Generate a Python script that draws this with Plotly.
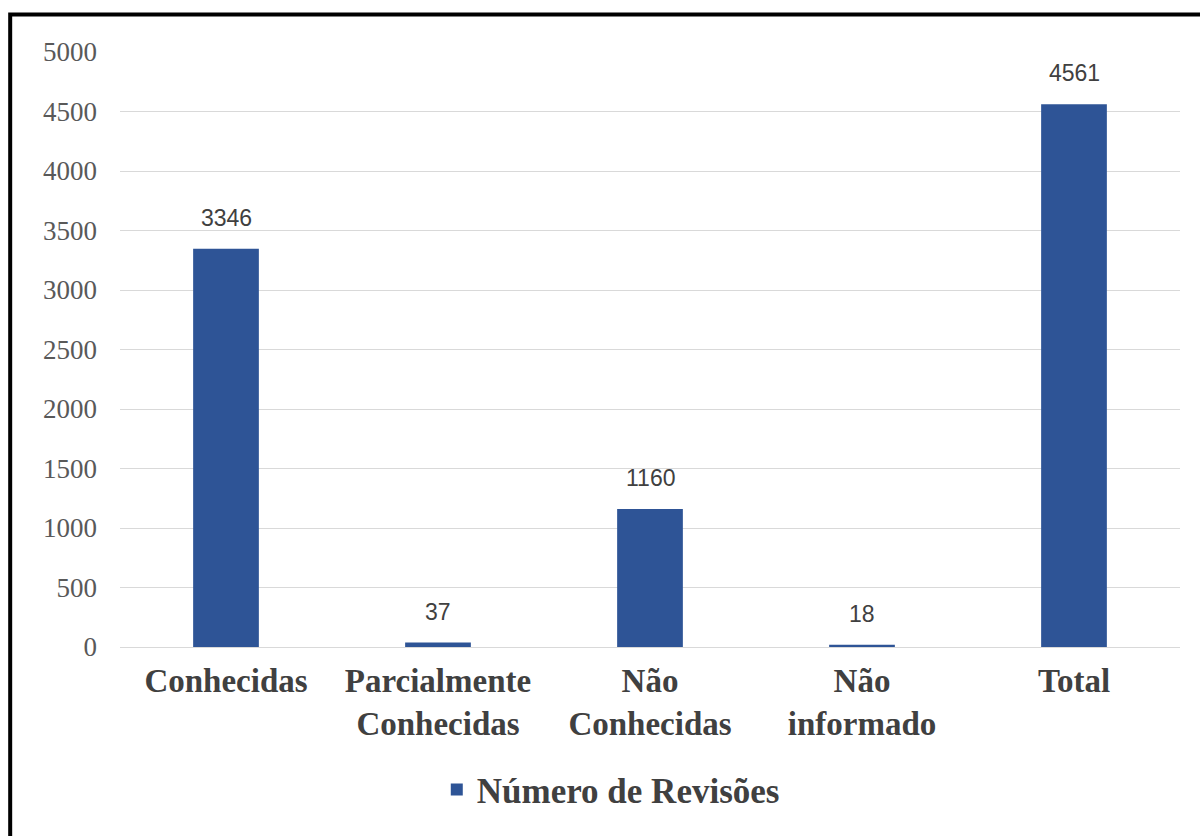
import plotly.graph_objects as go

# Categorias e valores do gráfico
categorias = ["Conhecidas", "Parcialmente<br>Conhecidas", "Não<br>Conhecidas", "Não<br>informado", "Total"]
revisoes = [3346, 37, 1160, 18, 4561]
serie_nome = "Número de Revisões"
y_ticks = [0, 500, 1000, 1500, 2000, 2500, 3000, 3500, 4000, 4500, 5000]

COR_BARRA = "#2E5496"
SERIF = "Liberation Serif, DejaVu Serif, serif"
SANS_NARROW = "Liberation Sans Narrow, Liberation Sans, sans-serif"

fig = go.Figure()
fig.add_trace(go.Bar(
    x=categorias,
    y=revisoes,
    name=serie_nome,
    marker=dict(color=COR_BARRA, line=dict(width=0)),
    showlegend=True,
))

# Rótulos de valor acima das barras
for cat, val in zip(categorias, revisoes):
    fig.add_annotation(
        x=cat, y=val, xref="x", yref="y",
        text=str(val), showarrow=False,
        yanchor="middle", yshift=31,
        font=dict(family=SANS_NARROW, size=23, color="#404040"),
    )

# Moldura preta em volta do gráfico
fig.add_shape(
    type="rect", xref="paper", yref="paper",
    x0=-0.1036, x1=1.031, y0=-0.341, y1=1.063,
    line=dict(color="black", width=4), fillcolor="rgba(0,0,0,0)",
    layer="above",
)

fig.update_layout(
    width=1200, height=836,
    margin=dict(l=120, r=20, t=52, b=189),
    paper_bgcolor="white", plot_bgcolor="white",
    bargap=0.69,
    legend=dict(
        orientation="h", x=0.463, xanchor="center", y=-0.24, yanchor="middle",
        font=dict(family=SERIF, size=35, color="#404040", weight="bold"),
        itemsizing="constant",
    ),
    xaxis=dict(
        showgrid=False, showline=False, zeroline=False,
        tickfont=dict(family=SERIF, size=33, color="#404040", weight="bold"),
        ticks="", ticklabelstandoff=11,
    ),
    yaxis=dict(
        range=[0, 5000], tickvals=y_ticks, ticktext=[str(v) for v in y_ticks],
        showgrid=True, gridcolor="#D9D9D9", gridwidth=1,
        zeroline=True, zerolinecolor="#D9D9D9", zerolinewidth=1,
        showline=False, ticks="",
        tickfont=dict(family=SERIF, size=27, color="#595959"),
        ticklabelstandoff=22,
    ),
)

fig.write_html("out.html")
